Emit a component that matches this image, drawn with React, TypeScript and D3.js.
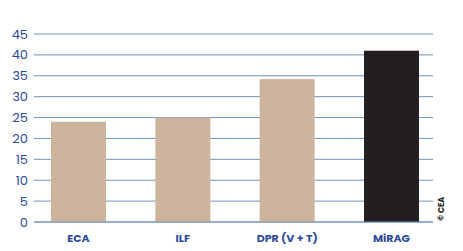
import React from "react";
import * as d3 from "d3";

const categories = ["ECA", "ILF", "DPR (V + T)", "MiRAG"];
const values = [24, 25, 34.2, 41];
const barColors = ["#CCB39C", "#CCB39C", "#CCB39C", "#231F20"];
const yTicks = [0, 5, 10, 15, 20, 25, 30, 35, 40, 45];

export default function App() {
  const W = 463, H = 251;
  const x = d3.scaleBand<string>().domain(categories).range([34, 436]).paddingInner(0.473).paddingOuter(0.163);
  const y = d3.scaleLinear().domain([0, 45]).range([222, 34]);
  const font = "Poppins, 'Open Sans', Lato, sans-serif";
  return (
    <svg width={W} height={H} style={{ position: "absolute", left: 0, top: 0, background: "#fff" }}>
      {yTicks.map((t) => (
        <g key={t}>
          <line x1={34} x2={433} y1={y(t)} y2={y(t)} stroke="#6E93B8" strokeWidth={1} />
          <text x={28} y={y(t)} dy="0.35em" textAnchor="end" fontSize={13} fill="#2C4A9C" fontFamily={font}>
            {t}
          </text>
        </g>
      ))}
      {categories.map((c, i) => (
        <rect key={c} x={x(c)} y={y(values[i])} width={x.bandwidth()} height={y(0) - y(values[i])} fill={barColors[i]} />
      ))}
      <line x1={34} x2={433} y1={y(0)} y2={y(0)} stroke="#6E93B8" strokeWidth={1} />
      {categories.map((c) => (
        <text key={c} x={(x(c) as number) + x.bandwidth() / 2} y={238} dy="0.35em" textAnchor="middle" fontSize={11} fontWeight={700} fill="#2C4A9C" fontFamily={font}>
          {c}
        </text>
      ))}
      <text transform="translate(444,221) rotate(-90)" fontSize={8} fontWeight={700} fill="#231F20" fontFamily={font}>
        © CEA
      </text>
    </svg>
  );
}
